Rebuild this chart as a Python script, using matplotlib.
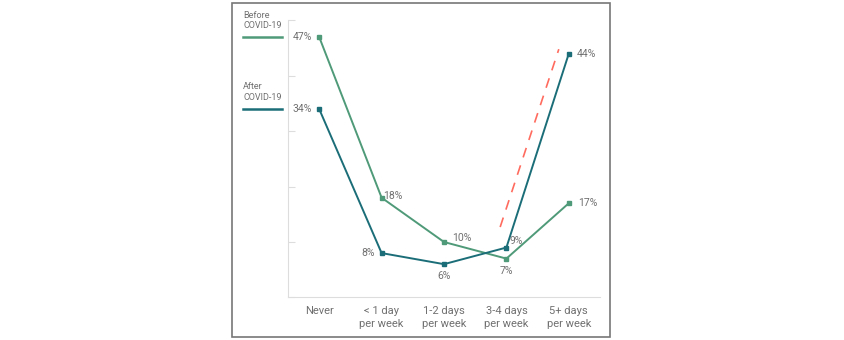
import matplotlib.pyplot as plt
from matplotlib.patches import Rectangle

plt.rcParams['font.family'] = ['Roboto', 'DejaVu Sans']

categories = ['Never', '< 1 day\nper week', '1-2 days\nper week', '3-4 days\nper week', '5+ days\nper week']
before = [47, 18, 10, 7, 17]
after = [34, 8, 6, 9, 44]

# trend guide drawn as a dashed red line
trend_x = [2.90, 3.84]
trend_y = [12.7, 44.8]

green = '#4f9a78'
teal = '#1b6e78'
grey = '#707070'

fig = plt.figure(figsize=(8.44, 3.4), dpi=100)
fig.patches.append(Rectangle((232/844, 3/340), 378/844, 334/340, transform=fig.transFigure,
                             fill=False, edgecolor='#777777', linewidth=1.2))

ax = fig.add_axes([288/844, 1 - 297.4/340, 312/844, 277/340])
x = range(len(categories))
ax.plot(x, before, color=green, lw=1.4, marker='s', ms=3.5)
ax.plot(x, after, color=teal, lw=1.4, marker='s', ms=3.5)
ax.plot(trend_x, trend_y, color='#ff6b5e', lw=1.2, ls=(0, (6, 5)))

ax.set_xlim(-0.5, 4.5)
ax.set_ylim(0, 50)
ax.set_yticks([0, 10, 20, 30, 40, 50])
ax.set_yticklabels([])
ax.tick_params(axis='y', length=5, color='#dddddd', direction='in', width=0.8)
ax.set_xticks(list(x))
ax.set_xticklabels(categories, fontsize=8, color=grey, linespacing=1.45)
ax.tick_params(axis='x', length=0, pad=6)
for s in ['top', 'right']:
    ax.spines[s].set_visible(False)
ax.spines['left'].set_color('#dddddd')
ax.spines['bottom'].set_color('#dddddd')

# value labels
kw = dict(fontsize=7.5, color=grey)
def lab(i, v, dx, dy, ha, va):
    ax.annotate(f'{v}%', (i, v), xytext=(dx, dy), textcoords='offset points', ha=ha, va=va, **kw)

lab(0, before[0], -5, 0, 'right', 'center')
lab(1, before[1], 1, 1, 'left', 'center')
lab(2, before[2], 6, 3, 'left', 'center')
lab(3, before[3], 0, -5, 'center', 'top')
lab(4, before[4], 7, 0, 'left', 'center')
lab(0, after[0], -5, 0, 'right', 'center')
lab(1, after[1], -5, 0, 'right', 'center')
lab(2, after[2], 0, -5, 'center', 'top')
lab(3, after[3], 2, 5, 'left', 'center')
lab(4, after[4], 6, 0, 'left', 'center')

# legend at the left edge, level with the first points
fig.text(243/844, 1 - 20.5/340, 'Before\nCOVID-19', fontsize=6.5, color=grey, va='center', ha='left', linespacing=1.25)
fig.add_artist(plt.Line2D([243/844, 282/844], [1 - 37/340] * 2, color=green, lw=1.8))
fig.text(243/844, 1 - 92/340, 'After\nCOVID-19', fontsize=6.5, color=grey, va='center', ha='left', linespacing=1.25)
fig.add_artist(plt.Line2D([243/844, 282/844], [1 - 109/340] * 2, color=teal, lw=1.8))

fig.savefig('out.png', dpi=100)
